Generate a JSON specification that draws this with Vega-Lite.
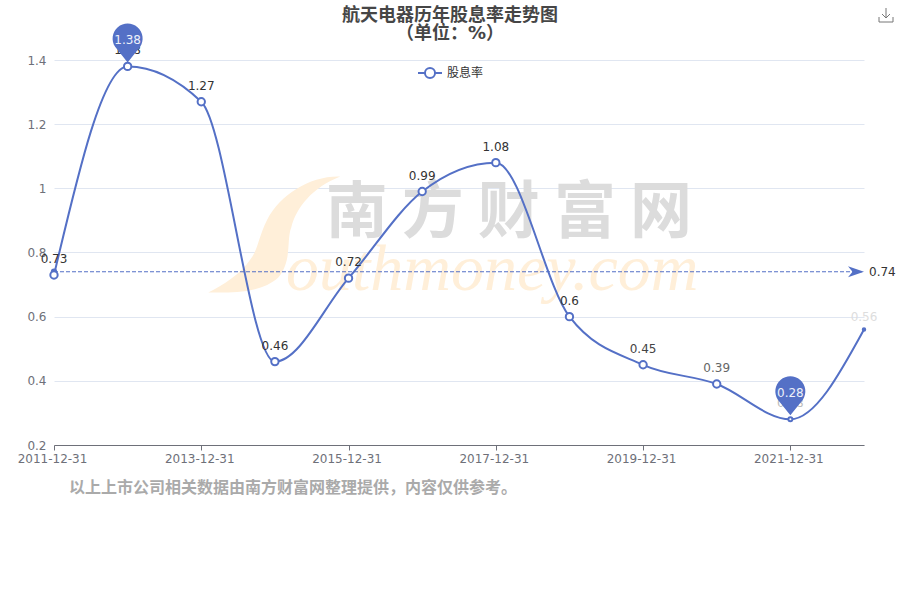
{
"$schema":"https://vega.github.io/schema/vega-lite/v6.json",
"width":810,"height":385,
"autosize":{"type":"none"},
"padding":{"left":54,"top":60,"right":36,"bottom":155},
"background":"white",
"config":{"font":"DejaVu Sans, Noto Sans CJK SC","view":{"stroke":null}},
"title":{"text":["航天电器历年股息率走势图","（单位：%）"],"fontSize":18,"lineHeight":18,"fontWeight":"bold","color":"#464646","anchor":"middle","frame":"group","dx":-9,"dy":37,"offset":0,"font":"DejaVu Sans, Noto Sans CJK SC"},
"datasets":{
"dividend":[
{"date":"2011-12-31","value":0.73},{"date":"2012-12-31","value":1.38},{"date":"2013-12-31","value":1.27},{"date":"2014-12-31","value":0.46},{"date":"2015-12-31","value":0.72},{"date":"2016-12-31","value":0.99},{"date":"2017-12-31","value":1.08},{"date":"2018-12-31","value":0.6},{"date":"2019-12-31","value":0.45},{"date":"2020-12-31","value":0.39},{"date":"2021-12-31","value":0.28},{"date":"2022-12-31","value":0.56}],
"average":[{"date":"2011-12-31","value":0.74},{"date":"2022-12-31","value":0.74}],
"extremes":[{"date":"2012-12-31","value":1.38},{"date":"2021-12-31","value":0.28}]
},
"data":{"name":"dividend"},
"encoding":{
"x":{"field":"date","type":"ordinal","scale":{"type":"point","padding":0},
"axis":{"values":["2011-12-31","2013-12-31","2015-12-31","2017-12-31","2019-12-31","2021-12-31"],"labelAngle":0,"labelFontSize":12,"labelColor":"#6E7079","tickColor":"#6E7079","domainColor":"#6E7079","tickSize":5,"labelPadding":3,"labelOffset":-2,"grid":false,
"title":"以上上市公司相关数据由南方财富网整理提供，内容仅供参考。","titleFontSize":16,"titleFontWeight":"bold","titleColor":"#AAAAAA","titleX":238.5,"titleY":42,"titleAlign":"center","titleBaseline":"middle","titleFont":"Noto Sans CJK SC"}},
"y":{"field":"value","type":"quantitative","scale":{"domain":[0.2,1.4],"nice":false,"zero":false},
"axis":{"values":[0.2,0.4,0.6,0.8,1,1.2,1.4],"format":"~g","domain":false,"ticks":false,"labelFontSize":12,"labelColor":"#6E7079","labelPadding":8,"gridColor":"#E0E6F1","grid":true,"title":null}}
},
"layer":[
{"data":{"values":[{"date":"2013-12-31","value":0.8}]},"mark":{"type":"point","filled":true,"size":400,"opacity":1,"color":"#FFEFD9","shape":"M13.9,-7.6C10.9,-7.7,7.9,-5.8,6.6,-3.3C5.7,-1.5,5.7,-0.3,4.9,0.7C3.9,2.2,2.1,3.3,0.7,4C2.4,4,5.9,4.2,7.7,2.5C9.1,0.9,8.5,-1.3,9,-2.5C9.5,-4.5,11.1,-6.5,13.9,-7.6Z"}},
{"data":{"values":[{"date":"2017-12-31","value":0.92,"mark":"南 方 财 富 网"}]},"mark":{"type":"text","font":"Noto Sans CJK SC","fontWeight":"bold","fontSize":62,"color":"#DCDCDC","dx":13,"baseline":"middle","align":"center"},"encoding":{"text":{"field":"mark"}}},
{"data":{"values":[{"date":"2016-12-31","value":0.683,"mark":"outhmoney.com"}]},"mark":{"type":"text","font":"Liberation Serif","fontStyle":"italic","fontSize":66,"color":"#FFEFD9","dx":70,"baseline":"alphabetic","align":"center"},"encoding":{"text":{"field":"mark"}}},
{"data":{"name":"average"},"mark":{"type":"line","color":"#5470C6","strokeWidth":1.2,"strokeDash":[4,2]}},
{"mark":{"type":"line","interpolate":"monotone","strokeWidth":2},
"encoding":{"color":{"datum":"股息率","type":"nominal","scale":{"range":["#5470C6"]},
"legend":{"orient":"none","legendX":363,"legendY":0,"title":null,"padding":0,"symbolType":"M-1,0H-0.42M0.42,0H1M0.42,0A0.42,0.42,0,1,1,-0.42,0A0.42,0.42,0,1,1,0.42,0Z","symbolSize":576,"symbolFillColor":"#FFFFFF","symbolStrokeColor":"#5470C6","symbolStrokeWidth":2,"symbolOpacity":1,"labelFontSize":12,"labelColor":"#333333","labelOffset":4,"labelFont":"Noto Sans CJK SC"}}}},
{"data":{"values":[{"date":"2011-12-31","value":0.74}]},"mark":{"type":"circle","size":40,"color":"#5470C6","opacity":1}},
{"mark":{"type":"circle","stroke":"#5470C6","strokeWidth":2,"opacity":1},
"encoding":{"size":{"condition":[{"test":"datum.date==='2022-12-31'","value":6},{"test":"datum.date==='2021-12-31'","value":16}],"value":54},
"fill":{"condition":{"test":"datum.date==='2022-12-31'","value":"#5470C6"},"value":"#FFFFFF"}}},
{"transform":[{"filter":"datum.date!=='2022-12-31'"}],"mark":{"type":"text","fontSize":12,"dy":-16,"baseline":"middle","align":"center"},
"encoding":{"text":{"field":"value","type":"quantitative","format":"~g"},
"color":{"condition":[{"test":"datum.date==='2021-12-31'","value":"#BBBBBB"},{"test":"datum.date==='2020-12-31'","value":"#666666"},{"test":"datum.date==='2019-12-31'","value":"#444444"}],"value":"#333333"}}},
{"transform":[{"filter":"datum.date==='2022-12-31'"}],"mark":{"type":"text","fontSize":12,"dy":-13,"baseline":"middle","align":"center","color":"#DDDDDD"},
"encoding":{"text":{"field":"value","type":"quantitative","format":"~g"}}},
{"data":{"name":"extremes"},"mark":{"type":"point","filled":true,"opacity":1,"color":"#5470C6","size":400,"shape":"M0,-0.4L-1.25,-1.97A1.5,1.5,0,1,1,1.25,-1.97Z"}},
{"data":{"name":"extremes"},"mark":{"type":"text","fontSize":12,"dy":-26,"color":"#EEF1FA","baseline":"middle","align":"center"},"encoding":{"text":{"field":"value","type":"quantitative","format":"~g"}}},
{"data":{"values":[{"date":"2022-12-31","value":0.74}]},"mark":{"type":"point","filled":true,"opacity":1,"color":"#5470C6","size":400,"shape":"M0,0L-1.6,-0.55L-1.15,0L-1.6,0.55Z"}},
{"data":{"values":[{"date":"2022-12-31","value":0.74}]},"mark":{"type":"text","fontSize":12,"dx":5,"color":"#333333","baseline":"middle","align":"left"},"encoding":{"text":{"field":"value","type":"quantitative","format":"~g"}}},
{"data":{"values":[{"date":"2022-12-31","value":1.4}]},"mark":{"type":"point","filled":false,"opacity":1,"color":"#777777","strokeWidth":1,"size":400,"shape":"M1.5,-4.3V-3.8H2.9V-4.3M2.2,-5.2V-4.2M1.8,-4.6L2.2,-4.2L2.6,-4.6"}}
]
}
